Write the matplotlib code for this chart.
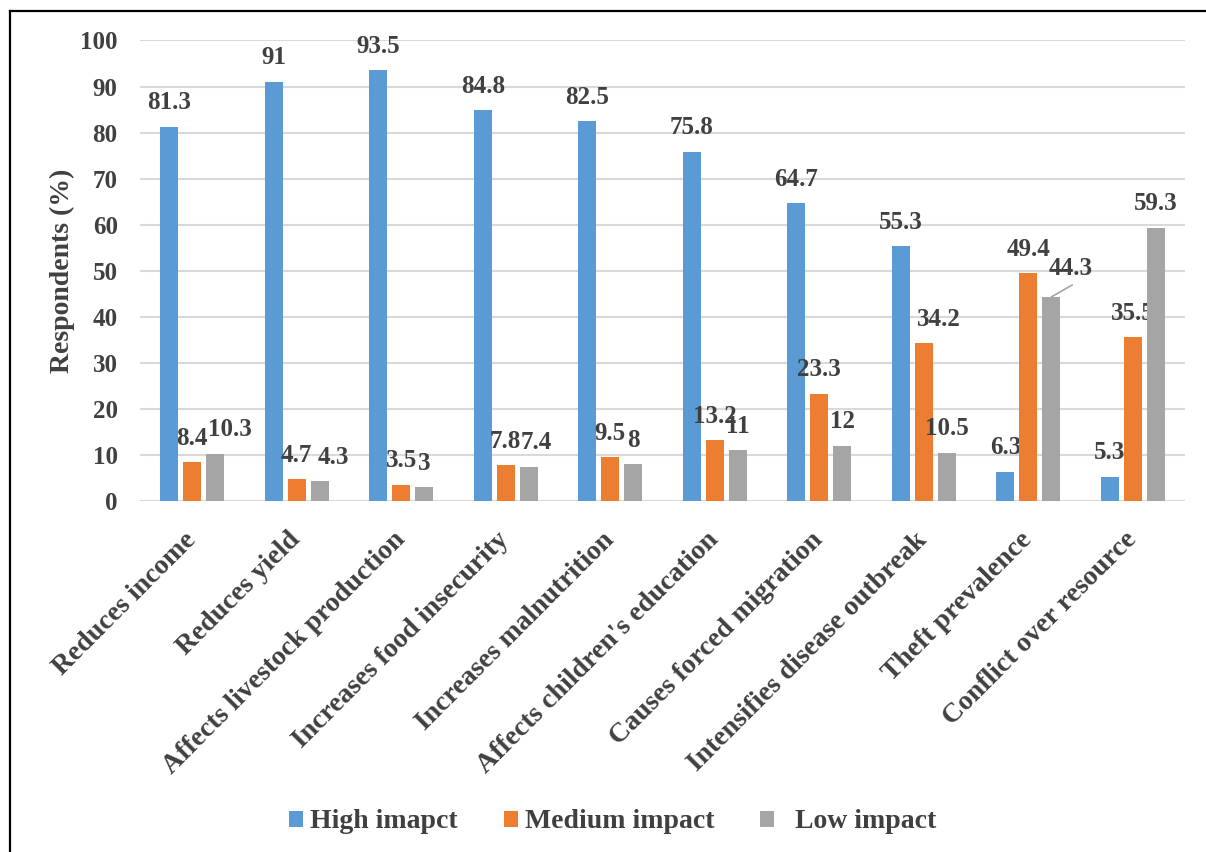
import numpy as np
import matplotlib
matplotlib.use("Agg")
import matplotlib.pyplot as plt
from matplotlib.lines import Line2D
from matplotlib.transforms import ScaledTranslation

categories = ["Reduces income", "Reduces yield", "Affects livestock production",
              "Increases food insecurity", "Increases malnutrition",
              "Affects children's education", "Causes forced migration",
              "Intensifies disease outbreak", "Theft prevalence", "Conflict over resource"]
high = [81.3, 91, 93.5, 84.8, 82.5, 75.8, 64.7, 55.3, 6.3, 5.3]
medium = [8.4, 4.7, 3.5, 7.8, 9.5, 13.2, 23.3, 34.2, 49.4, 35.5]
low = [10.3, 4.3, 3, 7.4, 8, 11, 12, 10.5, 44.3, 59.3]
series_names = ["High imapct", "Medium impact", "  Low impact"]
colors = ["#5B9BD5", "#ED7D31", "#A5A5A5"]
txt = "#404040"

plt.rcParams['font.family'] = ['Liberation Serif', 'DejaVu Serif']
plt.rcParams['font.weight'] = 'bold'

fig = plt.figure(figsize=(12.06, 8.52), dpi=100)
ax = fig.add_axes([0.116, 0.412, 0.8666, 0.5405])

x = np.arange(len(categories))
w = 0.172
off = 0.22
# horizontal nudges (pixels) for a few data labels, as placed in the original
nudge = {(2, 0): 15, (2, 1): 14, (2, 3): 8, (1, 7): 15, (2, 8): 19}
for i, (vals, name, c) in enumerate(zip([high, medium, low], series_names, colors)):
    xs = x + (i - 1) * off
    ax.bar(xs, vals, w, color=c, label=name, zorder=3)
    for j, (xx, v) in enumerate(zip(xs, vals)):
        dy = 24
        if (i, j) == (2, 8):
            dy = 28
            ax.annotate("", xy=(xx, v), xytext=(21, 12), textcoords='offset pixels',
                        arrowprops=dict(arrowstyle='-', color='#A5A5A5', lw=1.2,
                                        shrinkA=0, shrinkB=0))
        ax.annotate(f"{v:g}", xy=(xx, v), xytext=(nudge.get((i, j), 0), dy),
                    textcoords='offset pixels', ha='center', va='center',
                    fontsize=18, color=txt, fontweight='bold')

ax.set_xlim(-0.5, 9.5)
ax.set_ylim(0, 100)
ax.set_yticks(range(0, 101, 10))
ax.grid(axis='y', color='#D9D9D9', lw=1.5, zorder=0)
for s in ax.spines.values():
    s.set_visible(False)
ax.tick_params(axis='both', length=0, colors=txt)
ax.tick_params(axis='y', pad=16, labelsize=18)
ax.set_xticks(x)
ax.set_xticklabels(categories, rotation=45, ha='right', va='top',
                   rotation_mode='anchor', fontweight='bold', fontsize=20)
ax.tick_params(axis='x', pad=19)
shift = ScaledTranslation(-9 / 100, 0, fig.dpi_scale_trans)
for lbl in ax.get_xticklabels():
    lbl.set_transform(lbl.get_transform() + shift)
for t in ax.get_yticklabels():
    t.set_fontweight('bold')

fig.text(62 / 1206, 1 - 271 / 852, "Respondents (%)", rotation=90, ha='center',
         va='center', fontsize=20, color=txt, fontweight='bold')

leg = fig.legend(loc='center', bbox_to_anchor=(0.508, 1 - 822 / 852), ncol=3,
                 frameon=False, fontsize=20, handlelength=0.5, handleheight=0.5,
                 handletextpad=0.25, columnspacing=1.65)
for t in leg.get_texts():
    t.set_color(txt)
    t.set_fontweight('bold')

fig.add_artist(Line2D([10 / 1206, 10 / 1206], [0, 1 - 11 / 852], color='black', lw=1.6,
                      transform=fig.transFigure))
fig.add_artist(Line2D([10 / 1206, 1], [1 - 11 / 852, 1 - 11 / 852], color='black', lw=1.6,
                      transform=fig.transFigure))

fig.savefig("out.png", dpi=100)
